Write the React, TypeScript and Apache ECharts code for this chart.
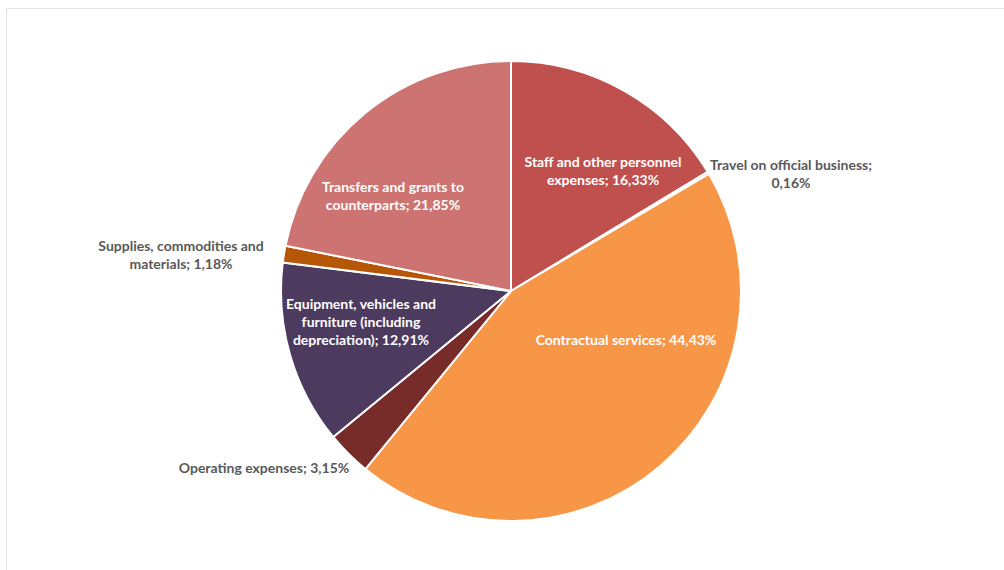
import React, { useEffect, useRef } from "react";
import * as echarts from "echarts";

const categories = [
  "Staff and other personnel\nexpenses",
  "Travel on official business;\n",
  "Contractual services",
  "Operating expenses",
  "Equipment, vehicles and\nfurniture (including\ndepreciation)",
  "Supplies, commodities and\nmaterials",
  "Transfers and grants to\ncounterparts",
];
const values = [16.33, 0.16, 44.43, 3.15, 12.91, 1.18, 21.85];
const colors = ["#C0504D", "#4BACC6", "#F79646", "#772C2A", "#4C3A5F", "#B65708", "#CD7371"];
const labelColors = ["#FFFFFF", "#595959", "#FFFFFF", "#595959", "#FFFFFF", "#595959", "#FFFFFF"];
const labelPos = [
  [603, 170],
  [791, 173],
  [626, 339],
  [264, 467],
  [361, 321],
  [181, 254],
  [393, 195],
];

export default function App() {
  const ref = useRef<HTMLDivElement>(null);
  useEffect(() => {
    if (!ref.current) return;
    const chart = echarts.init(ref.current, null, { renderer: "svg" });
    chart.setOption({
      animation: false,
      backgroundColor: "#FFFFFF",
      graphic: [
        {
          type: "rect",
          shape: { x: 6.5, y: 8.5, width: 1200, height: 800 },
          style: { fill: "none", stroke: "#E3E3E3", lineWidth: 1 },
          silent: true,
          z: -1,
        },
      ],
      series: [
        {
          type: "pie",
          center: [511, 291],
          radius: [0, 230],
          startAngle: 90,
          clockwise: true,
          avoidLabelOverlap: false,
          itemStyle: { borderColor: "#FFFFFF", borderWidth: 2 },
          label: {
            show: true,
            position: "inside",
            fontFamily: "Lato, 'Open Sans', sans-serif",
            fontWeight: "bold",
            fontSize: 14,
            lineHeight: 18,
            align: "center",
            formatter: (p: any) => {
              const v = (p.value as number).toFixed(2).replace(".", ",") + "%";
              const n = p.name as string;
              if (n.endsWith("\n")) return n.slice(0, -1) + "\n" + v;
              return n + "; " + v;
            },
          },
          labelLine: { show: false },
          labelLayout: (params: any) => {
            const pos = labelPos[params.dataIndex];
            return { x: pos[0], y: pos[1], align: "center", verticalAlign: "middle" };
          },
          data: categories.map((name, i) => ({
            name,
            value: values[i],
            itemStyle: { color: colors[i] },
            label: { color: labelColors[i] },
          })),
        },
      ],
    });
    return () => chart.dispose();
  }, []);
  return (
    <div
      ref={ref}
      style={{ position: "fixed", left: 0, top: 0, width: 1004, height: 570 }}
    />
  );
}
